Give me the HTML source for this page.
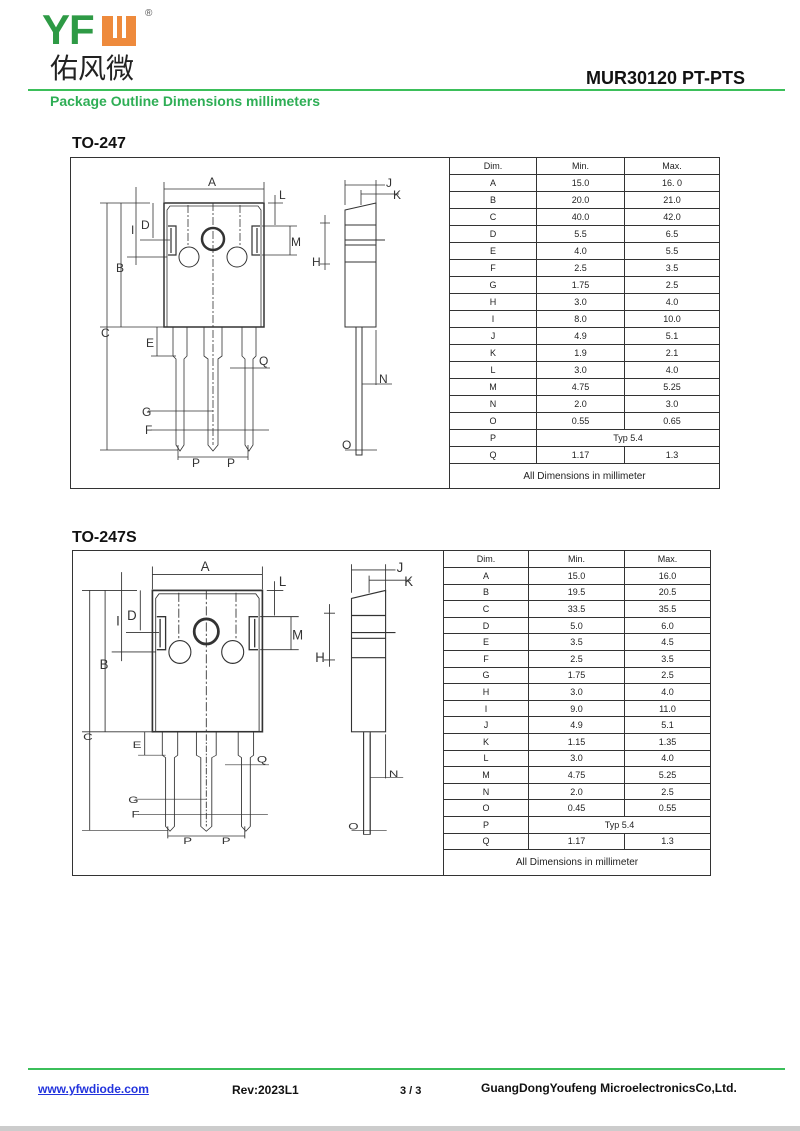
<!DOCTYPE html>
<html><head><meta charset="utf-8"><style>
body{margin:0;background:#fff;width:800px;height:1131px;position:relative;overflow:hidden;font-family:"Liberation Sans",Arial,sans-serif}
.a{position:absolute;white-space:nowrap}
.t{position:absolute;border:1px solid #333;font-size:9px;color:#222;box-sizing:border-box}
.r{display:flex;border-bottom:1px solid #333;box-sizing:border-box;align-items:center}
.r:last-child{border-bottom:none}
.r div{text-align:center;box-sizing:border-box;height:100%;display:flex;align-items:center;justify-content:center;border-right:1px solid #333}
.r div:last-child{border-right:none}
</style></head><body>
<div class="a" style="left:42px;top:6px;font:bold 42px 'Liberation Sans',sans-serif;color:#2e9a45;letter-spacing:-1px">YF</div>
<div class="a" style="left:102px;top:16px;width:34px;height:30px;background:#ee8a3c"></div>
<div class="a" style="left:113px;top:16px;width:4px;height:22px;background:#fff"></div>
<div class="a" style="left:122px;top:16px;width:4px;height:22px;background:#fff"></div>
<div class="a" style="left:145px;top:8px;font-size:10px;color:#555">®</div>
<div class="a" style="left:50px;top:50px;font:28px 'Noto Sans CJK SC',sans-serif;color:#222;line-height:34px">佑风微</div>
<div class="a" style="left:586px;top:68px;font:bold 18px 'Liberation Sans',sans-serif;color:#111">MUR30120 PT-PTS</div>
<div class="a" style="left:28px;top:89px;width:757px;height:2px;background:#3bbf5a"></div>
<div class="a" style="left:50px;top:93px;font:bold 14px 'Liberation Sans',sans-serif;color:#2eae55">Package Outline Dimensions millimeters</div>
<div class="a" style="left:72px;top:135px;font:bold 16px 'Liberation Sans',sans-serif;color:#111">TO-247</div>
<div class="a" style="left:72px;top:529px;font:bold 16px 'Liberation Sans',sans-serif;color:#111">TO-247S</div>
<div class="a" style="left:70px;top:157px;width:648px;height:330px;border:1.5px solid #333"></div>
<div class="a" style="left:72px;top:550px;width:637px;height:324px;border:1.5px solid #333"></div>

<div class="t" style="left:449px;top:157px;width:271px;height:332px">
<div class="r" style="height:17px"><div style="width:87px">Dim.</div><div style="width:88px">Min.</div><div style="flex:1">Max.</div></div>
<div class="r" style="height:17px"><div style="width:87px">A</div><div style="width:88px">15.0</div><div style="flex:1">16. 0</div></div>
<div class="r" style="height:17px"><div style="width:87px">B</div><div style="width:88px">20.0</div><div style="flex:1">21.0</div></div>
<div class="r" style="height:17px"><div style="width:87px">C</div><div style="width:88px">40.0</div><div style="flex:1">42.0</div></div>
<div class="r" style="height:17px"><div style="width:87px">D</div><div style="width:88px">5.5</div><div style="flex:1">6.5</div></div>
<div class="r" style="height:17px"><div style="width:87px">E</div><div style="width:88px">4.0</div><div style="flex:1">5.5</div></div>
<div class="r" style="height:17px"><div style="width:87px">F</div><div style="width:88px">2.5</div><div style="flex:1">3.5</div></div>
<div class="r" style="height:17px"><div style="width:87px">G</div><div style="width:88px">1.75</div><div style="flex:1">2.5</div></div>
<div class="r" style="height:17px"><div style="width:87px">H</div><div style="width:88px">3.0</div><div style="flex:1">4.0</div></div>
<div class="r" style="height:17px"><div style="width:87px">I</div><div style="width:88px">8.0</div><div style="flex:1">10.0</div></div>
<div class="r" style="height:17px"><div style="width:87px">J</div><div style="width:88px">4.9</div><div style="flex:1">5.1</div></div>
<div class="r" style="height:17px"><div style="width:87px">K</div><div style="width:88px">1.9</div><div style="flex:1">2.1</div></div>
<div class="r" style="height:17px"><div style="width:87px">L</div><div style="width:88px">3.0</div><div style="flex:1">4.0</div></div>
<div class="r" style="height:17px"><div style="width:87px">M</div><div style="width:88px">4.75</div><div style="flex:1">5.25</div></div>
<div class="r" style="height:17px"><div style="width:87px">N</div><div style="width:88px">2.0</div><div style="flex:1">3.0</div></div>
<div class="r" style="height:17px"><div style="width:87px">O</div><div style="width:88px">0.55</div><div style="flex:1">0.65</div></div>
<div class="r" style="height:17px"><div style="width:87px">P</div><div style="flex:1">Typ 5.4</div></div>
<div class="r" style="height:17px"><div style="width:87px">Q</div><div style="width:88px">1.17</div><div style="flex:1">1.3</div></div>
<div class="r" style="height:24px"><div style="flex:1;font-size:10px">All Dimensions in millimeter</div></div>
</div>

<div class="t" style="left:443px;top:550px;width:268px;height:326px">
<div class="r" style="height:17px"><div style="width:85px">Dim.</div><div style="width:96px">Min.</div><div style="flex:1">Max.</div></div>
<div class="r" style="height:16.6px"><div style="width:85px">A</div><div style="width:96px">15.0</div><div style="flex:1">16.0</div></div>
<div class="r" style="height:16.6px"><div style="width:85px">B</div><div style="width:96px">19.5</div><div style="flex:1">20.5</div></div>
<div class="r" style="height:16.6px"><div style="width:85px">C</div><div style="width:96px">33.5</div><div style="flex:1">35.5</div></div>
<div class="r" style="height:16.6px"><div style="width:85px">D</div><div style="width:96px">5.0</div><div style="flex:1">6.0</div></div>
<div class="r" style="height:16.6px"><div style="width:85px">E</div><div style="width:96px">3.5</div><div style="flex:1">4.5</div></div>
<div class="r" style="height:16.6px"><div style="width:85px">F</div><div style="width:96px">2.5</div><div style="flex:1">3.5</div></div>
<div class="r" style="height:16.6px"><div style="width:85px">G</div><div style="width:96px">1.75</div><div style="flex:1">2.5</div></div>
<div class="r" style="height:16.6px"><div style="width:85px">H</div><div style="width:96px">3.0</div><div style="flex:1">4.0</div></div>
<div class="r" style="height:16.6px"><div style="width:85px">I</div><div style="width:96px">9.0</div><div style="flex:1">11.0</div></div>
<div class="r" style="height:16.6px"><div style="width:85px">J</div><div style="width:96px">4.9</div><div style="flex:1">5.1</div></div>
<div class="r" style="height:16.6px"><div style="width:85px">K</div><div style="width:96px">1.15</div><div style="flex:1">1.35</div></div>
<div class="r" style="height:16.6px"><div style="width:85px">L</div><div style="width:96px">3.0</div><div style="flex:1">4.0</div></div>
<div class="r" style="height:16.6px"><div style="width:85px">M</div><div style="width:96px">4.75</div><div style="flex:1">5.25</div></div>
<div class="r" style="height:16.6px"><div style="width:85px">N</div><div style="width:96px">2.0</div><div style="flex:1">2.5</div></div>
<div class="r" style="height:16.6px"><div style="width:85px">O</div><div style="width:96px">0.45</div><div style="flex:1">0.55</div></div>
<div class="r" style="height:16.6px"><div style="width:85px">P</div><div style="flex:1">Typ 5.4</div></div>
<div class="r" style="height:16.6px"><div style="width:85px">Q</div><div style="width:96px">1.17</div><div style="flex:1">1.3</div></div>
<div class="r" style="height:24px"><div style="flex:1;font-size:10px">All Dimensions in millimeter</div></div>
</div>

<svg class="a" style="left:0;top:0" width="800" height="1131" viewBox="0 0 800 1131">
<defs>
<clipPath id="up" clipPathUnits="userSpaceOnUse"><rect x="0" y="150" width="450" height="177.5"/></clipPath>
<clipPath id="lo" clipPathUnits="userSpaceOnUse"><rect x="0" y="327.5" width="450" height="150"/></clipPath>
<g id="pkg" fill="none" stroke="#333" stroke-width="0.8" font-family="Liberation Sans, sans-serif" font-size="12">
 <rect x="164" y="203" width="100" height="124" stroke-width="1.5"/>
 <path d="M167 327V210l3-4h88l3 4v117"/>
 <circle cx="213" cy="239" r="11" stroke-width="2.5"/>
 <circle cx="189" cy="257" r="10" stroke-width="1"/>
 <circle cx="237" cy="257" r="10" stroke-width="1"/>
 <path d="M168 226h8v29h-8M171 228v25M260 226h-8v29h8M257 228v25" stroke-width="1.2"/>
 <path d="M188 205v42M240 205v42M213 203v124" stroke-dasharray="8 2 2 2"/>
 <path d="M173 327v29l3 3v86l4 6l4-6v-86l3-3v-29M204 327v29l4 3v86l5 6l5-6v-86l4-3v-29M242 327v29l3 3v86l4 6l4-6v-86l3-3v-29"/>
 <path d="M213 330v115" stroke-dasharray="8 2 2 2"/>
 <path d="M164 182v20M264 182v20M164 189h100M150 203h-50M100 327h65M100 450h78M176 356h-25M170 240h-30M167 257h-40M262 226h35M262 255h35M268 203h15"/>
 <path d="M107 203v247M121 203v124M136 187v78M153 203v35M157 327v29M290 226v29M275 195v30M230 368h40M148 411h65M151 430h118M178 457h70M178 445v15M248 445v15"/>
 <g fill="#333" stroke="none">
  <text x="208" y="186">A</text><text x="279" y="199">L</text><text x="291" y="246">M</text>
  <text x="141" y="229">D</text><text x="131" y="234">I</text><text x="116" y="272">B</text>
  <text x="101" y="337">C</text><text x="146" y="347">E</text><text x="259" y="365">Q</text>
  <text x="142" y="416">G</text><text x="145" y="434">F</text><text x="192" y="467">P</text><text x="227" y="467">P</text>
  <text x="386" y="187">J</text><text x="393" y="199">K</text><text x="312" y="266">H</text>
  <text x="379" y="383">N</text><text x="342" y="449">O</text>
 </g>
 <path d="M345 210l31-7v124h-31zM345 225h31M345 240h40M345 245h31M345 262h31" stroke-width="1"/>
 <path d="M356 327v128h6v-128" stroke-width="1"/>
 <path d="M345 180v25M376 180v25M345 185h40M361 194h38M361 190v15M325 215v55M330 223h-10M330 264h-10M362 384h30M345 450h32M362 455V330M376 330v55"/>
</g>
</defs>
<use href="#pkg"/>
<use href="#pkg" clip-path="url(#up)" transform="translate(-28,359) scale(1.1,1.14)"/>
<use href="#pkg" clip-path="url(#lo)" transform="translate(-28,470.4) scale(1.1,0.8)"/>
</svg>

<div class="a" style="left:28px;top:1068px;width:757px;height:2px;background:#3bbf5a"></div>
<div class="a" style="left:38px;top:1082px;font:bold 12px 'Liberation Sans',sans-serif;color:#2233dd;text-decoration:underline">www.yfwdiode.com</div>
<div class="a" style="left:232px;top:1083px;font:bold 12px 'Liberation Sans',sans-serif;color:#111">Rev:2023L1</div>
<div class="a" style="left:400px;top:1085px;font:bold 11px 'Liberation Sans',sans-serif;color:#111">3 / 3</div>
<div class="a" style="left:481px;top:1081px;font:bold 12px 'Liberation Sans',sans-serif;color:#111">GuangDongYoufeng MicroelectronicsCo,Ltd.</div>
<div class="a" style="left:0;top:1126px;width:800px;height:5px;background:#ccc"></div>
</body></html>
